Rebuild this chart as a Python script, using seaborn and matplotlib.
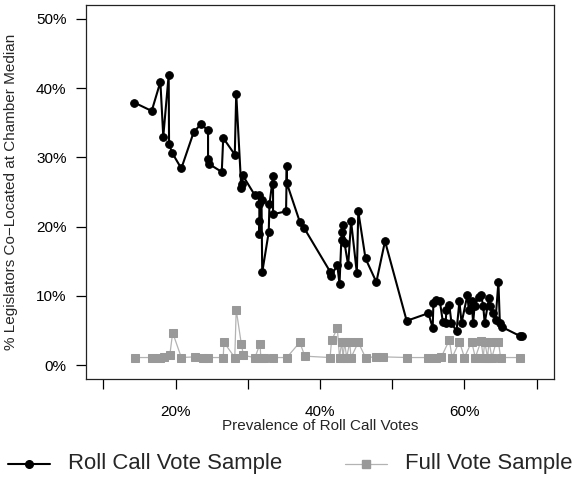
import matplotlib
matplotlib.use("Agg")
import matplotlib.pyplot as plt
from matplotlib.lines import Line2D
import seaborn as sns
import pandas as pd

# Roll call vote sample: prevalence of roll call votes (%) vs. % co-located at median
roll_x = [14.3, 16.7, 17.9, 18.3, 19.05, 19.1, 19.5, 20.8, 22.5, 23.5, 24.5, 24.5,
          24.7, 26.4, 26.6, 28.2, 28.4, 29.1, 29.2, 29.3, 31.0, 31.5, 31.6, 31.6,
          31.6, 31.9, 32.0, 32.9, 33.0, 33.5, 33.5, 33.5, 35.3, 35.4, 35.4, 37.2,
          37.8, 41.4, 41.5, 42.4, 42.7, 43.0, 43.1, 43.2, 43.4, 43.9, 44.3, 45.1,
          45.3, 46.3, 47.8, 49.0, 52.0, 55.0, 55.6, 55.7, 56.1, 56.6, 57.0, 57.4,
          57.5, 57.9, 58.2, 58.9, 59.3, 59.6, 60.4, 60.6, 61.0, 61.2, 61.4, 62.0,
          62.3, 62.6, 62.8, 63.4, 63.5, 64.0, 64.3, 64.7, 64.9, 65.2, 67.7, 67.9]
roll_y = [37.9, 36.7, 40.9, 33.0, 41.9, 32.0, 30.7, 28.4, 33.6, 34.8, 33.9, 29.8,
          29.0, 27.9, 32.8, 30.4, 39.2, 25.6, 26.2, 27.4, 24.5, 24.5, 23.3, 20.8,
          19.0, 23.9, 13.4, 19.2, 23.2, 27.3, 26.2, 21.8, 22.2, 28.7, 26.3, 20.7,
          19.8, 13.5, 12.9, 14.4, 11.7, 19.2, 18.1, 20.3, 17.6, 14.4, 20.8, 13.3,
          22.2, 15.4, 12.0, 17.9, 6.4, 7.5, 5.4, 9.0, 9.4, 9.2, 6.3, 6.1,
          8.0, 8.7, 6.1, 4.9, 9.2, 6.1, 10.1, 8.0, 9.2, 6.1, 8.5, 9.9,
          10.1, 8.5, 6.1, 9.7, 8.5, 7.5, 6.5, 12.0, 6.1, 5.5, 4.2, 4.2]

# Full vote sample
full_x = [14.4, 16.7, 17.8, 18.4, 19.2, 19.6, 20.8, 22.7, 23.8, 24.5, 26.6, 26.7,
          28.2, 28.4, 29.1, 29.4, 31.0, 31.7, 31.8, 32.2, 33.5, 35.4, 37.2, 37.9,
          41.4, 41.6, 42.4, 42.7, 43.0, 43.2, 43.4, 43.7, 44.1, 44.3, 45.3, 46.3,
          47.8, 48.7, 52.1, 55.0, 56.1, 56.8, 57.9, 58.3, 59.3, 60.0, 61.0, 61.5,
          62.3, 62.6, 62.8, 63.2, 63.4, 63.8, 64.4, 64.7, 65.0, 67.7]
full_y = [1.1, 1.1, 1.1, 1.2, 1.4, 4.7, 1.1, 1.2, 1.1, 1.1, 1.1, 3.3,
          1.1, 8.0, 3.1, 1.4, 1.1, 3.1, 1.1, 1.1, 1.1, 1.1, 3.3, 1.3,
          1.1, 3.6, 5.3, 1.1, 3.3, 1.1, 3.3, 1.1, 3.3, 1.1, 3.3, 1.1,
          1.2, 1.2, 1.1, 1.1, 1.1, 1.2, 3.6, 1.1, 3.4, 1.1, 3.4, 1.1,
          3.5, 1.1, 3.4, 1.1, 3.4, 1.1, 3.4, 3.4, 1.1, 1.1]

y_ticks = [0, 10, 20, 30, 40, 50]
y_tick_labels = ["0%", "10%", "20%", "30%", "40%", "50%"]
x_ticks = [10, 20, 30, 40, 50, 60, 70]
x_tick_labels = ["", "20%", "", "40%", "", "60%", ""]

sns.set_theme(style="white")
plt.rcParams["font.family"] = ["Liberation Sans", "DejaVu Sans"]

roll = pd.DataFrame({"x": roll_x, "y": roll_y})
full = pd.DataFrame({"x": full_x, "y": full_y})

fig = plt.figure(figsize=(5.74, 4.97), dpi=100)
ax = fig.add_axes([0.1498, 0.2374, 0.8154, 0.7526])

sns.lineplot(data=full, x="x", y="y", ax=ax, estimator=None, sort=False,
             color="#b3b3b3", linewidth=0.9, marker="s", markersize=5.5,
             markerfacecolor="#999999", markeredgecolor="#999999", zorder=2)
sns.lineplot(data=roll, x="x", y="y", ax=ax, estimator=None, sort=False,
             color="black", linewidth=1.5, marker="o", markersize=5.5,
             markerfacecolor="black", markeredgecolor="black", zorder=3)

ax.set_xlim(7.6, 72.4)
ax.set_ylim(-2, 52)
ax.set_xticks(x_ticks)
ax.set_xticklabels(x_tick_labels, fontsize=11)
ax.set_yticks(y_ticks)
ax.set_yticklabels(y_tick_labels, fontsize=11)
ax.tick_params(axis="both", which="both", direction="out", length=7, width=0.9,
               color="black", labelcolor="black", bottom=True, left=True)
ax.tick_params(axis="y", pad=7)
ax.tick_params(axis="x", pad=12)
for sp in ax.spines.values():
    sp.set_color("#222222")
    sp.set_linewidth(0.9)
ax.set_xlabel("Prevalence of Roll Call Votes", fontsize=11, labelpad=0)
ax.set_ylabel("% Legislators Co\u2212Located at Chamber Median", fontsize=11, labelpad=13)
ax.grid(False)

# Legend row beneath the plot
ly = 1 - 464 / 497
fig.add_artist(Line2D([8 / 574, 50 / 574], [ly, ly], color="black", linewidth=1.5,
                      transform=fig.transFigure))
fig.add_artist(Line2D([29 / 574], [ly], color="black", marker="o", markersize=5.5,
                      linestyle="none", transform=fig.transFigure))
fig.text(68 / 574, ly, "Roll Call Vote Sample", fontsize=15.9, va="center", ha="left")
fig.add_artist(Line2D([345 / 574, 387 / 574], [ly, ly], color="#b3b3b3", linewidth=0.9,
                      transform=fig.transFigure))
fig.add_artist(Line2D([366 / 574], [ly], color="#999999", marker="s", markersize=5.5,
                      linestyle="none", transform=fig.transFigure))
fig.text(405 / 574, ly, "Full Vote Sample", fontsize=15.9, va="center", ha="left")

fig.savefig("out.png", dpi=100)
